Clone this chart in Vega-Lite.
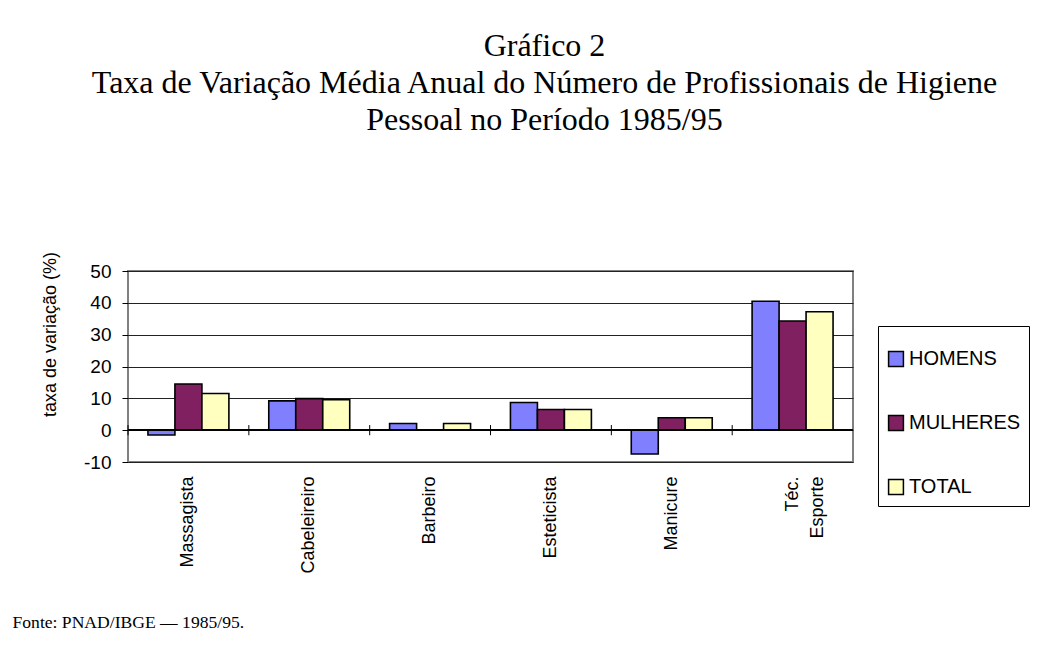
{
  "$schema": "https://vega.github.io/schema/vega-lite/v6.json",
  "width": 725,
  "height": 191,
  "autosize": {"type": "none"},
  "padding": {"left": 128, "top": 271, "right": 210, "bottom": 186},
  "background": "white",
  "title": {
    "text": ["Gráfico 2", "Taxa de Variação Média Anual do Número de Profissionais de Higiene", "Pessoal no Período 1985/95"],
    "font": "Liberation Serif",
    "fontSize": 32,
    "fontWeight": "normal",
    "color": "#000",
    "lineHeight": 37,
    "anchor": "middle",
    "frame": "group",
    "dx": 54,
    "baseline": "bottom",
    "offset": 80
  },
  "config": {
    "view": {"stroke": "#808080", "strokeWidth": 2},
    "font": "Liberation Sans"
  },
  "data": {
    "values": [
      {"ocupacao": "Massagista", "grupo": "HOMENS", "taxa": -1.5},
      {"ocupacao": "Massagista", "grupo": "MULHERES", "taxa": 14.5},
      {"ocupacao": "Massagista", "grupo": "TOTAL", "taxa": 11.5},
      {"ocupacao": "Cabeleireiro", "grupo": "HOMENS", "taxa": 9.2},
      {"ocupacao": "Cabeleireiro", "grupo": "MULHERES", "taxa": 9.9},
      {"ocupacao": "Cabeleireiro", "grupo": "TOTAL", "taxa": 9.6},
      {"ocupacao": "Barbeiro", "grupo": "HOMENS", "taxa": 2.1},
      {"ocupacao": "Barbeiro", "grupo": "MULHERES", "taxa": 0},
      {"ocupacao": "Barbeiro", "grupo": "TOTAL", "taxa": 2.1},
      {"ocupacao": "Esteticista", "grupo": "HOMENS", "taxa": 8.7},
      {"ocupacao": "Esteticista", "grupo": "MULHERES", "taxa": 6.5},
      {"ocupacao": "Esteticista", "grupo": "TOTAL", "taxa": 6.5},
      {"ocupacao": "Manicure", "grupo": "HOMENS", "taxa": -7.5},
      {"ocupacao": "Manicure", "grupo": "MULHERES", "taxa": 3.9},
      {"ocupacao": "Manicure", "grupo": "TOTAL", "taxa": 3.9},
      {"ocupacao": "Téc. Esporte", "grupo": "HOMENS", "taxa": 40.5},
      {"ocupacao": "Téc. Esporte", "grupo": "MULHERES", "taxa": 34.3},
      {"ocupacao": "Téc. Esporte", "grupo": "TOTAL", "taxa": 37.2}
    ]
  },
  "layer": [
    {
      "transform": [{"filter": "datum.grupo != 'MULHERES' || datum.taxa != 0"}],
      "mark": {"type": "bar", "stroke": "#000", "strokeWidth": 1.6},
      "encoding": {
        "x": {
          "field": "ocupacao",
          "type": "nominal",
          "sort": null,
          "scale": {"paddingInner": 0.33, "paddingOuter": 0.165},
          "axis": {
            "title": "Fonte: PNAD/IBGE — 1985/95.",
            "titleFont": "Liberation Serif",
            "titleFontSize": 17.6,
            "titleFontWeight": "normal",
            "titleColor": "#000",
            "titleX": -116,
            "titleY": 160,
            "titleAlign": "left",
            "titleBaseline": "middle",
            "titleAngle": 0,
            "domain": false,
            "ticks": false,
            "labelAngle": 270,
            "labelAlign": "right",
            "labelBaseline": "middle",
            "labelPadding": 14,
            "labelFontSize": 18,
            "labelColor": "#000",
            "labelLineHeight": 25,
            "labelExpr": "datum.value == 'Téc. Esporte' ? ['Téc.', 'Esporte'] : datum.value"
          }
        },
        "xOffset": {"field": "grupo", "type": "nominal", "sort": ["HOMENS", "MULHERES", "TOTAL"], "scale": {"paddingInner": 0, "paddingOuter": 0}},
        "y": {
          "field": "taxa",
          "type": "quantitative",
          "scale": {"domain": [-10, 50], "nice": false, "zero": false},
          "axis": {
            "values": [-10, 0, 10, 20, 30, 40, 50],
            "tickCount": 7,
            "labelOverlap": false,
            "labelExpr": "datum.value + ''",
            "title": "taxa de variação  (%)",
            "titleFontSize": 18,
            "titleFontWeight": "normal",
            "titleColor": "#000",
            "titlePadding": 24,
            "titleY": 63,
            "titleAlign": "center",
            "domain": false,
            "tickColor": "#000",
            "tickSize": 6,
            "labelFontSize": 19,
            "labelColor": "#000",
            "labelPadding": 11,
            "gridColor": "#222",
            "gridWidth": 1
          }
        },
        "fill": {
          "field": "grupo",
          "type": "nominal",
          "scale": {"domain": ["HOMENS", "MULHERES", "TOTAL"], "range": ["#8080FF", "#802060", "#FFFFC0"]},
          "legend": {
            "orient": "none",
            "legendX": 750,
            "legendY": 55,
            "title": " ",
            "titleFontSize": 1,
            "titlePadding": 14,
            "strokeColor": "#000",
            "padding": 8,
            "symbolType": "square",
            "symbolSize": 220,
            "symbolStrokeColor": "#000",
            "symbolStrokeWidth": 1.5,
            "symbolOpacity": 1,
            "labelFontSize": 20,
            "labelColor": "#000",
            "labelOffset": 3,
            "rowPadding": 42
          }
        }
      }
    },
    {
      "mark": {"type": "rule", "color": "#000", "strokeWidth": 1.2},
      "encoding": {"y": {"datum": 0}}
    },
    {
      "transform": [{"filter": "datum.grupo == 'HOMENS'"}],
      "mark": {"type": "rule", "color": "#000", "strokeWidth": 1},
      "encoding": {
        "x": {"field": "ocupacao", "type": "nominal", "sort": null, "bandPosition": -0.246},
        "y": {"datum": -1.6},
        "y2": {"datum": 1.6}
      }
    }
  ]
}
